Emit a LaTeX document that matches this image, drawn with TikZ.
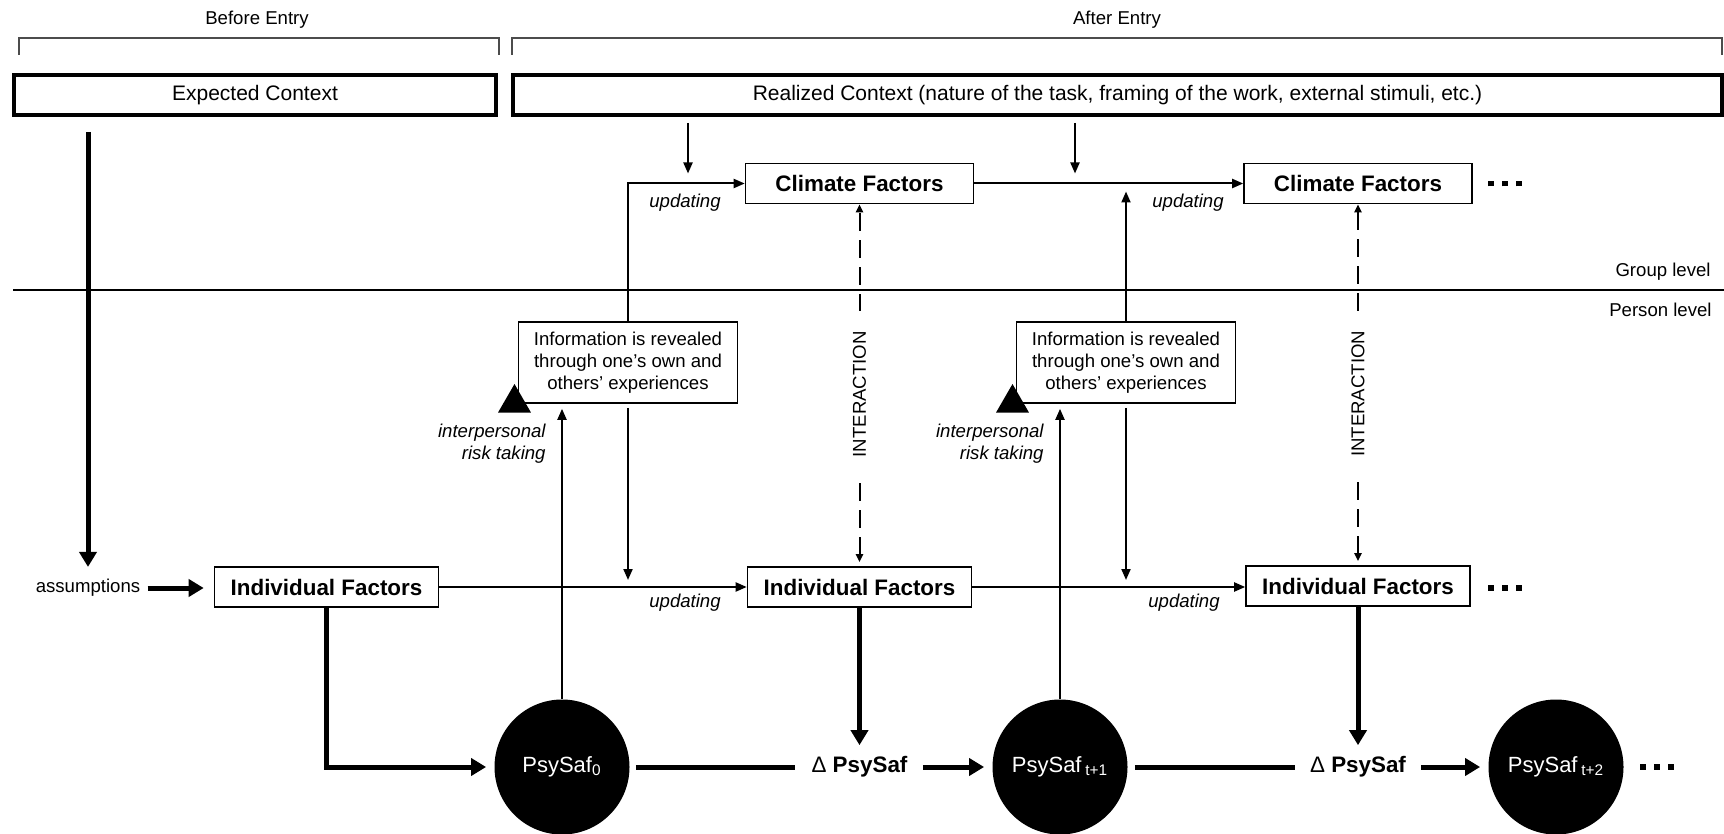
\documentclass[tikz,border=0pt]{standalone}
\usepackage{fontspec}
\setmainfont{Liberation Sans}
\usetikzlibrary{arrows.meta,shapes.geometric}
\newcommand{\tdots}{\rule{2.8pt}{2.8pt}\hspace{4.2pt}\rule{2.8pt}{2.8pt}\hspace{4.2pt}\rule{2.8pt}{2.8pt}}

\begin{document}
\begin{tikzpicture}[
	x=0.5pt, y=-0.5pt,
	small/.style={font=\fontsize{9.3}{11}\selectfont},
	upd/.style={font=\itshape\fontsize{9.3}{11}\selectfont, inner sep=0pt},
	context/.style={draw, line width=1.75pt, minimum height=20.2pt, inner sep=0pt, font=\fontsize{10.5}{12}\selectfont},
	factor/.style={draw, line width=0.8pt, minimum width=112pt, minimum height=20pt, inner sep=0pt, font=\bfseries\fontsize{11.2}{13}\selectfont},
	info/.style={draw, line width=0.8pt, minimum width=109.5pt, minimum height=40.5pt, inner sep=0pt, align=center, font=\fontsize{9.3}{11}\selectfont},
	psy/.style={circle, fill=black, text=white, minimum size=67.5pt, inner sep=0pt, font=\fontsize{11}{13}\selectfont},
	delta/.style={inner sep=0pt, font=\bfseries\fontsize{11.2}{13}\selectfont},
	risk/.style={regular polygon, regular polygon sides=3, fill=black, minimum size=19pt, inner sep=0pt},
	thinarr/.style={line width=1pt, -{Triangle[length=5.5pt,width=4.5pt]}},
	thickarr/.style={line width=2.5pt, -{Triangle[length=7.5pt,width=8.5pt]}},
	thickline/.style={line width=2.5pt},
	dasharr/.style={line width=1pt, dash pattern=on 9pt off 4.5pt, {Triangle[length=4pt,width=3.5pt]}-{Triangle[length=4pt,width=3.5pt]}},
	bracket/.style={draw=black!70, line width=0.6pt}
	]
	\useasboundingbox (0,0) rectangle (1724,834);

	\node[small] (before) at (257,20) {Before Entry};
	\node[small] (after) at (1117,20) {After Entry};
	\draw[bracket] (19,55) -- (19,38) -- (499,38) -- (499,55);
	\draw[bracket] (512,55) -- (512,38) -- (1722,38) -- (1722,55);

	\node[context, minimum width=241pt] (expected) at (255,95) {Expected Context};
	\node[context, minimum width=604.5pt] (realized) at (1117.5,95) {Realized Context (nature of the task, framing of the work, external stimuli, etc.)};

	\node[factor, minimum width=114pt] (clim1) at (859.5,183.5) {Climate Factors};
	\node[factor, minimum width=114pt] (clim2) at (1358,183.5) {Climate Factors};
	\node (cdots) at (1505,183.5) {\tdots};

	\draw[line width=0.75pt] (13,290) -- (1724,290);
	\node[small, anchor=east, inner sep=0pt] (group) at (1711,272) {Group level};
	\node[small, anchor=east, inner sep=0pt] (person) at (1712,310) {Person level};

	\node[info] (info1) at (628,362.5) {Information is revealed\\through one's own and\\others' experiences};
	\node[info] (info2) at (1126,362.5) {Information is revealed\\through one's own and\\others' experiences};
	\node[risk] (risk1) at (514.5,403) {};
	\node[risk] (risk2) at (1012.5,403) {};
	\node[upd, align=right, anchor=east] (take1) at (546,444) {interpersonal\\risk taking};
	\node[upd, align=right, anchor=east] (take2) at (1044,444) {interpersonal\\risk taking};

	\node[small, inner sep=0pt] (assum) at (88,588) {assumptions};
	\node[factor] (ind1) at (326.5,587) {Individual Factors};
	\node[factor] (ind2) at (859.5,587) {Individual Factors};
	\node[factor] (ind3) at (1358,586) {Individual Factors};
	\node (idots) at (1505,588) {\tdots};

	\node[upd] (upd1) at (685,203) {updating};
	\node[upd] (upd2) at (1188,203) {updating};
	\node[upd] (upd3) at (685,603) {updating};
	\node[upd] (upd4) at (1184,603) {updating};

	\node[psy] (ps0) at (562,767) {PsySaf\textsubscript{0}};
	\node[delta] (d1) at (859.5,767) {{\mdseries Δ} PsySaf};
	\node[psy] (ps1) at (1060,767) {PsySaf\,\textsubscript{t+1}};
	\node[delta] (d2) at (1358,767) {{\mdseries Δ} PsySaf};
	\node[psy] (ps2) at (1556,767) {PsySaf\,\textsubscript{t+2}};
	\node (pdots) at (1657,767) {\tdots};

	\coordinate (r1) at (688,123);
	\coordinate (r2) at (1075,123);
	\draw[thinarr, shorten >=5pt] (r1) -- (r1 |- clim1.west);
	\draw[thinarr, shorten >=5pt] (r2) -- (r2 |- clim1.east);
	\draw[thinarr] (clim1.east) -- (clim1.east -| clim2.west);
	\draw[thinarr] (info1.north) |- (clim1.west);
	\draw[thinarr, shorten >=4pt] (info2.north) -- (info2.north |- clim1.east);
	\draw[thinarr, shorten <=2pt, shorten >=3.5pt] (info1.south) -- (info1.south |- ind1.east);
	\draw[thinarr, shorten <=2pt, shorten >=3.5pt] (info2.south) -- (info2.south |- ind2.east);
	\draw[thinarr, shorten >=2.5pt] (ps0.north) -- (ps0.north |- info1.south);
	\draw[thinarr, shorten >=2.5pt] (ps1.north) -- (ps1.north |- info2.south);
	\draw[thinarr] (ind1.east) -- (ind2.west);
	\draw[thinarr] (ind2.east) -- (ind2.east -| ind3.west);

	\draw[dasharr, shorten <=2pt] (ind2.north) -- node[small, rotate=90, fill=white, inner xsep=10pt, inner ysep=1pt, pos=0.475] {INTERACTION} (clim1.south);
	\draw[dasharr, shorten <=2pt] (ind3.north) -- node[small, rotate=90, fill=white, inner xsep=10pt, inner ysep=1pt, pos=0.475] {INTERACTION} (clim2.south);

	\draw[thickarr, shorten <=7.5pt, shorten >=6pt] (expected.south -| assum.north) -- (assum.north);
	\draw[thickarr, shorten <=3.5pt, shorten >=5pt] (assum.east) -- (assum.east -| ind1.west);
	\draw[thickarr, shorten >=4pt] (ind1.south) |- (ps0.west);
	\draw[thickline, shorten <=3pt, shorten >=8pt] (ps0.east) -- (d1.west);
	\draw[thickarr, shorten >=5.5pt] (ind2.south) -- (d1.north);
	\draw[thickarr, shorten <=7.5pt, shorten >=4pt] (d1.east) -- (ps1.west);
	\draw[thickline, shorten <=3.5pt, shorten >=7.5pt] (ps1.east) -- (d2.west);
	\draw[thickarr, shorten >=5.5pt] (ind3.south) -- (d2.north);
	\draw[thickarr, shorten <=7.5pt, shorten >=4pt] (d2.east) -- (ps2.west);
\end{tikzpicture}
\end{document}
